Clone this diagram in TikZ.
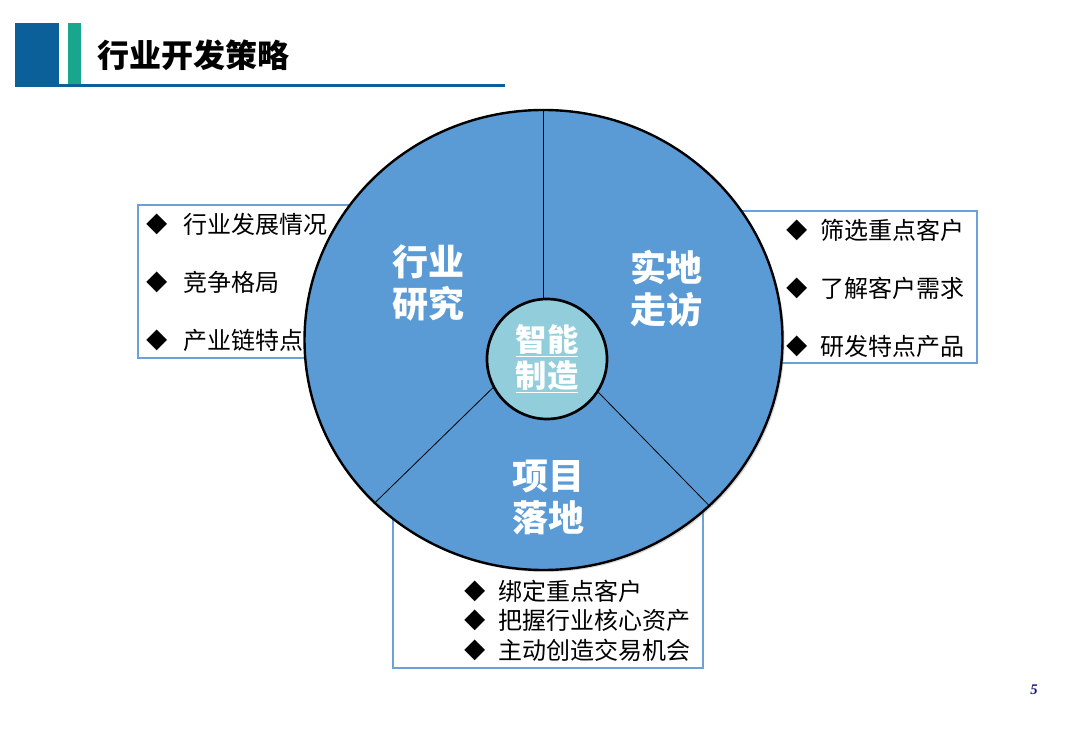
\documentclass[tikz,border=0pt]{standalone}
\usepackage{fontspec}
\setmainfont{Noto Sans CJK SC}
\newfontfamily\numfont{Liberation Serif}
\usetikzlibrary{shapes.geometric,shadows}

\definecolor{hdblue}{RGB}{12,96,154}
\definecolor{hdteal}{RGB}{24,166,140}
\definecolor{wheelblue}{RGB}{91,155,213}
\definecolor{hubblue}{RGB}{146,205,220}
\definecolor{boxblue}{RGB}{108,160,216}
\definecolor{pagenavy}{RGB}{20,20,120}

\begin{document}
\begin{tikzpicture}[x=0.75pt, y=-0.75pt, thick, font=\fontsize{18}{20}\selectfont]
    \tikzstyle{box_list} = [draw=boxblue, line width=1.7pt, fill=white, drop shadow={shadow xshift=1pt, shadow yshift=-1pt, opacity=0.25}]
    \tikzstyle{node_wheel} = [ellipse, draw=black, line width=1.8pt, fill=wheelblue, minimum width=358.5pt, minimum height=345pt, inner sep=0pt, drop shadow={shadow xshift=1.5pt, shadow yshift=-1.5pt, opacity=0.3}]
    \tikzstyle{node_hub} = [circle, draw=black, line width=2pt, fill=hubblue, minimum size=90pt, inner sep=0pt, align=center, text=white, font=\bfseries\fontsize{23.5}{27}\selectfont]
    \tikzstyle{label_white} = [text=white, align=center, inner sep=0pt, font=\bfseries\fontsize{27}{31.5}\selectfont]
    \tikzstyle{item_bullet} = [inner sep=0pt, font=\fontsize{16}{16}\selectfont]
    \tikzstyle{item_text} = [anchor=west, inner sep=0pt]
    \tikzstyle{line_split} = [black, line width=0.6pt]

    \useasboundingbox (0,0) rectangle (1070,730);

    % header
    \fill[hdblue] (15,23) rectangle (59,86);
    \fill[hdteal] (68,23) rectangle (81,86);
    \fill[hdblue] (15,84) rectangle (505,87);
    \node[anchor=west, inner sep=0pt, font=\bfseries\fontsize{24}{24}\selectfont] (title) at (97,55) {行业开发策略};

    % boxes behind the wheel
    \draw[box_list] (138,205) rectangle (360,358);
    \draw[box_list] (700,211) rectangle (977,363);
    \draw[box_list] (393,470) rectangle (703,668);

    \node[node_wheel] (wheel) at (543.5,340) {};
    \node[node_hub] (hub) at (547,359) {\underline{智能}\\\underline{制造}};

    \draw[line_split] (wheel.north) -- (wheel.north |- hub.north);
    \draw[line_split] (wheel.224) -- (hub.208);
    \draw[line_split] (wheel.315.6) -- (hub.327);

    \node[label_white] (research) at (428,283) {行业\\研究};
    \node[label_white] (visit) at (666,289) {实地\\走访};
    \node[label_white] (landing) at (548,497) {项目\\落地};

    % lists
    \foreach \txt [count=\i] in {行业发展情况, 竞争格局, 产业链特点} {
        \node[item_bullet] (lb\i) at (157,166+58*\i) {◆};
        \node[item_text] (lt\i) at (183,166+58*\i) {\txt};
    }
    \foreach \txt [count=\i] in {筛选重点客户, 了解客户需求, 研发特点产品} {
        \node[item_bullet] (rb\i) at (797,172+58*\i) {◆};
        \node[item_text] (rt\i) at (820,172+58*\i) {\txt};
    }
    \foreach \txt [count=\i] in {绑定重点客户, 把握行业核心资产, 主动创造交易机会} {
        \node[item_bullet] (bb\i) at (475,561.5+29.5*\i) {◆};
        \node[item_text] (bt\i) at (498,561.5+29.5*\i) {\txt};
    }

    \node[text=pagenavy, font=\numfont\bfseries\itshape\fontsize{11}{11}\selectfont] (pagenum) at (1034,690) {5};

\end{tikzpicture}
\end{document}
